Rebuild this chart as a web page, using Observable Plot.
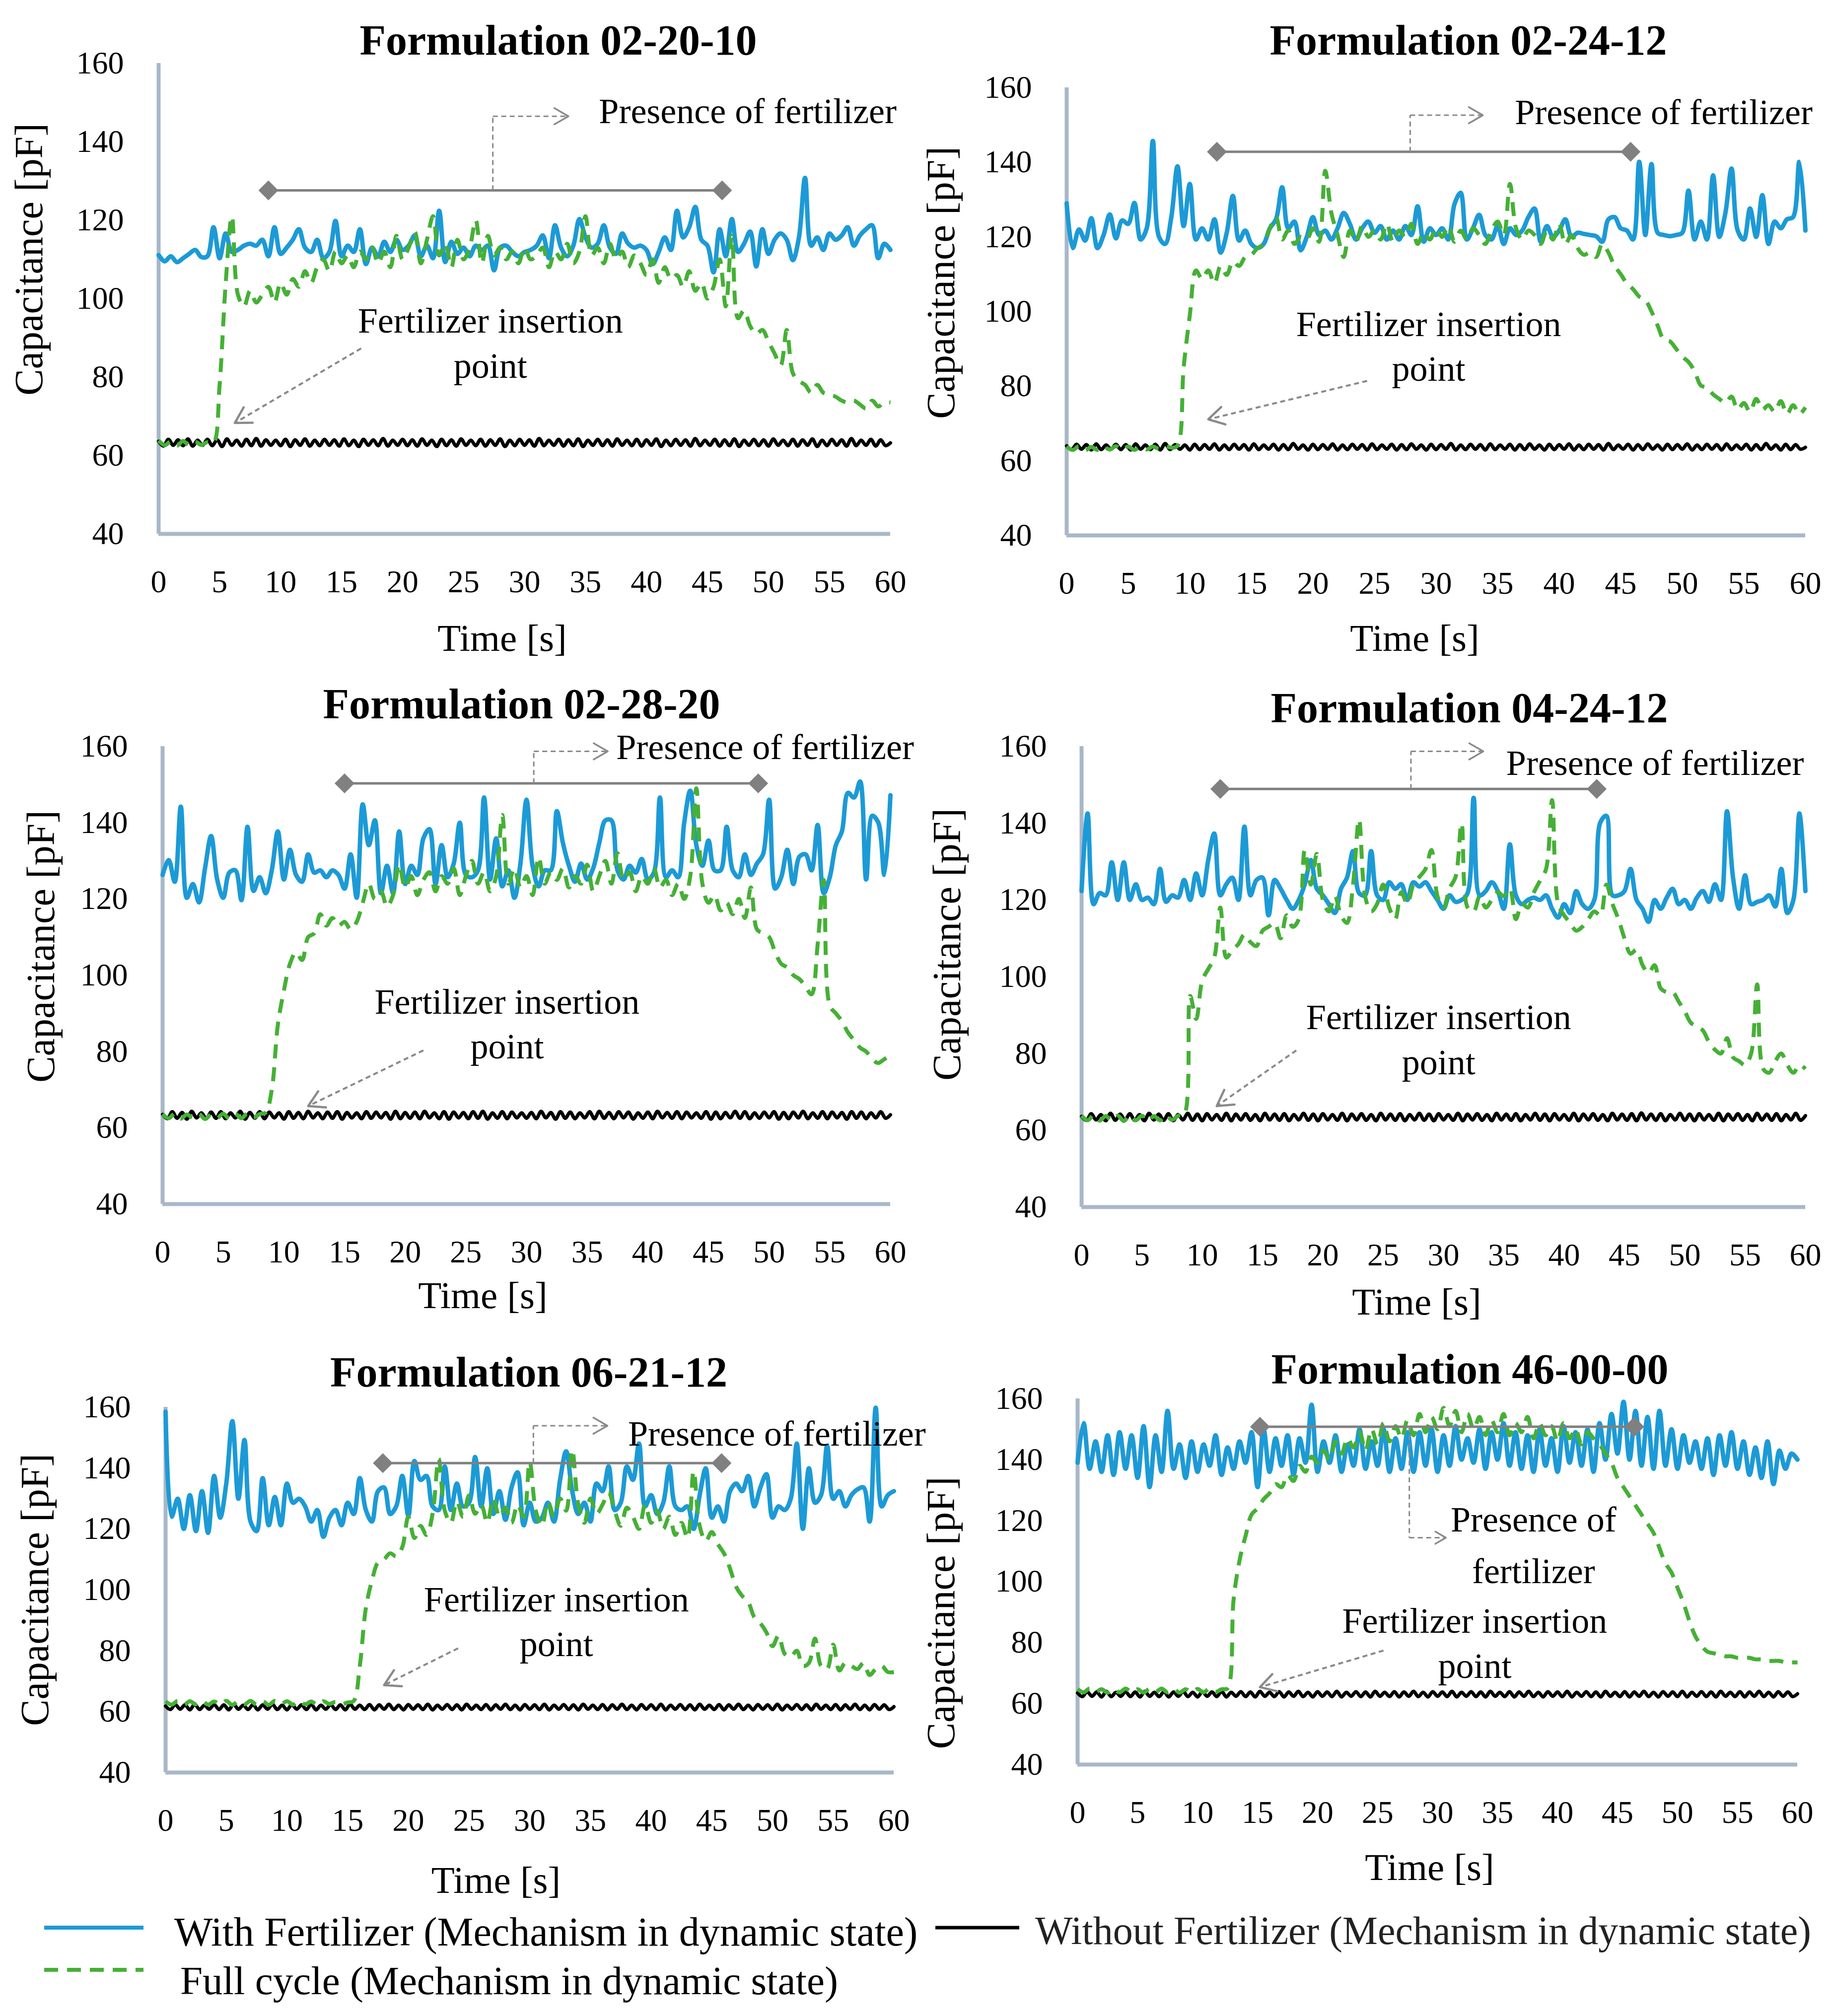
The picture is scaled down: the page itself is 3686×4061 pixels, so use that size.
<!DOCTYPE html>
<html><head><meta charset="utf-8">
<script src="https://cdn.jsdelivr.net/npm/d3@7"></script>
<script src="https://cdn.jsdelivr.net/npm/@observablehq/plot@0.6"></script>
<style>
html,body{margin:0;padding:0;background:#fff;}
#root{position:relative;width:3686px;height:4061px;background:#fff;overflow:hidden;}
</style></head><body><div id="root"></div><script>
// ---------------- DATA ----------------
const formulations = ["02-20-10","02-24-12","02-28-20","04-24-12","06-21-12","46-00-00"];
const yTicks = [40,60,80,100,120,140,160];
const xTicks = [0,5,10,15,20,25,30,35,40,45,50,55,60];
const seriesNames = ["With Fertilizer (Mechanism in dynamic state)","Full cycle (Mechanism in dynamic state)","Without Fertilizer (Mechanism in dynamic state)"];

// With fertilizer (blue), 0..60 s every 0.5 s
const wf_022010 = [111.1,109.5,110.8,109.3,110.3,111.4,112.4,110.6,110.8,118.2,
110.3,116.6,111.9,112.4,113.5,114.0,113.5,115.0,110.8,118.2,
111.4,113.0,115.0,117.7,113.0,111.9,115.0,110.3,111.9,119.8,
110.8,113.5,111.9,117.7,108.8,113.0,110.8,114.5,111.9,115.0,
112.4,113.5,116.1,110.8,113.5,110.3,122.4,109.3,114.5,111.4,
113.0,110.8,113.5,112.4,113.5,107.2,113.0,113.5,111.9,110.8,
111.9,112.4,113.5,116.1,110.3,118.7,113.0,110.8,113.5,120.3,
115.6,113.0,114.0,118.7,113.0,111.4,116.6,114.0,113.0,113.5,
112.4,108.8,111.9,115.6,112.4,122.4,115.6,118.2,123.4,115.0,
113.5,106.7,117.7,110.8,120.3,111.9,114.0,117.1,108.2,117.7,
111.4,115.0,116.6,115.0,109.8,115.6,130.8,113.5,115.6,112.4,
116.6,115.0,116.1,118.2,113.5,116.1,117.7,118.7,110.3,114.0,
112.4];
const wf_022412 = [129,117,122,119,125,117,120.5,126,119.6,124.4,
123.5,129.1,119.3,122.3,145.7,120,118.1,125.3,138.9,122.9,
134.2,119.3,122.3,119.3,124.7,115.8,121.1,131,119,121.7,
118.1,117,118.1,122.3,124.7,133.3,122.3,124.1,116.4,120,
125.3,120.5,121.7,119.3,122.3,126.4,123.5,119.3,122.3,124.1,
121.1,122.9,119.3,121.7,119.3,122.9,120.5,128.2,118.7,122.3,
120.5,122.3,119.3,128.8,131.8,119.3,122.3,125.9,120.5,119.3,
122.9,118.1,122.3,120.5,121.7,125.3,127.6,118.7,122.9,120,
121.7,124.7,120,121.1,120.8,120.5,120.2,118.7,124.7,125.3,
122.3,121.7,119.3,140.1,120.5,139.5,121.1,120.5,120.2,120.5,
121.1,132.4,119.3,124.1,119.3,136.5,120,126.4,138.3,121.7,
119.3,127.6,120,131.2,118.1,124.1,122.3,124.7,125.3,140.1,
121.7];
const wf_022820 = [126.3,130.2,124.5,144.2,120.3,123.9,119.1,128.1,136.5,125.1,
120.3,126.9,127.5,119.7,138.9,122.1,125.7,121.5,127.5,137.7,
125.1,132.9,126.3,124.5,131.7,126.9,127.5,125.7,127.5,126.3,
122.7,131.7,120.3,144.8,134.1,140.6,121.5,128.7,121.5,137.7,
123.9,128.7,126.3,135.9,138.3,123.9,134.1,125.7,129.3,140,
126.3,125.7,127.5,146.6,125.1,135.9,123.3,127.5,120.3,129.3,
146,128.7,123.3,127.5,127.5,143,134.7,128.7,124.5,129.3,
125.1,128.1,134.7,140.6,140.6,127.5,125.1,128.7,126.9,130.5,
125.1,126.9,146.6,125.7,127.5,125.7,140,148.4,134.1,128.7,
135.3,127.5,127.5,138.9,127.5,125.7,131.7,126.3,129.3,131.7,
146,122.7,125.7,132.9,123.9,131.1,131.7,127.5,139.4,121.5,
125.7,134.1,137.7,147.8,146.6,150.8,125.1,141.8,140,126.3,
147.2];
const wf_042412 = [122.3,142.5,118.9,121.8,121.2,129.8,120,129.8,120,124.1,
120,120.6,118.9,128.1,119.5,121.2,120.6,125.2,120,126.9,
121.2,130.4,137.3,121.2,124.1,125.8,120,139.1,121.2,125.2,
125.8,116,125.2,122.9,120,117.7,120,124.1,130.4,122.9,
121.2,118.9,116.6,122.9,125.8,132.7,121.8,121.2,132.7,121.2,
120,124.6,122.9,124.1,120,124.6,123.5,124.6,122.3,120,
117.7,121.2,119.5,120,121.8,146.6,121.2,122.3,124.6,122.3,
117.7,134.5,121.2,118.9,120,120.6,120,121.2,117.7,115.4,
118.9,116.6,122.3,118.9,117.7,120,140.2,141.9,121.2,121.2,
122.3,128.1,120,117.7,114.3,120,117.7,120.6,122.9,118.9,
120,117.7,120.6,122.3,119.5,124.1,120,143.1,125.8,117.7,
126.4,118.9,119.5,120,121.2,118.3,128.1,116.6,120,142.5,
122.3];
const wf_062112 = [158.5,124,129.9,120,131.1,119.3,132.4,118.7,137.4,123.7,
134.9,155.4,129.9,149.2,122.4,119.3,136.7,121.2,130.5,121.2,
134.9,128.6,129.9,127.4,122.4,126.2,117.4,123.7,126.2,121.2,
128.6,124.9,136.7,126.2,122.4,132.4,133.6,124.9,127.4,137.4,
124.3,142.3,136.1,137.4,127.4,126.2,140.5,126.2,134.9,127.4,
128.6,143.6,127.4,139.9,124.9,132.4,123,133.6,138.6,121.2,
128.6,122.4,123.7,128.6,122.4,136.1,145.5,132.4,124.9,128.6,
122.4,134.9,132.4,140.5,126.2,128.6,140.5,136.1,148,127.4,
131.1,124.9,128.6,140.5,127.4,126.2,127.4,120,131.1,139.9,
123.7,127.4,122.4,132.4,134.9,132.4,137.4,127.4,133.6,138,
123.7,127.4,126.2,129.9,148,120,139.9,128.6,131.1,147.3,
129.9,132.4,127.4,131.1,133,133.6,122.4,159.8,127.4,131.1,
132.4];
const wf_460000 = [139,152,137,146,136,148,135,149,137,148,
134,151,131,148,136,156,137,145,134,146,
136,145,138,148,135,144,137,146,139,149,
131,150,136,147,138,148,135,147,139,158,
136,146,139,148,136,145,138,150,137,146,
138,150,136,147,137,149,136,149,138,150,
136,148,138,151,140,147,139,150,137,149,
140,152,138,149,137,148,136,150,138,147,
136,151,139,149,138,150,136,152,140,155,
142,159,140,156,138,154,137,156,138,150,
137,148,139,146,137,147,135,148,138,149,
137,146,135,144,134,146,132,143,137,142,
140];

// Full cycle (green dashed), 0..60 s every 0.5 s
const fc_022010 = [63.8,62.6,63.6,62.5,63.7,62.6,63.5,62.7,63.4,63.2,
78,104,121,101,98,102,99,101,103,99,
104,101,105,103,107,104,108,110,107,112,
109,111,108,112,110,113,109,112,108,116,
110,113,117,109,115,121,111,114,108,115,
110,113,120,109,116,111,113,110,112,109,
113,110,111,113,108,112,110,114,109,112,
121,111,113,109,114,110,112,108,111,109,
106,110,104,108,105,106,103,107,102,104,
100,103,110,98,116,95,97,93,91,92,
89,86,83,92,81,79,78,76,78,76,
75.5,75,74,73.5,74,73,72,74,72.5,73.5,
73.5];
const fc_022412 = [63.8,62.9,63.9,62.8,63.7,62.9,63.8,63.0,63.9,62.9,
63.8,62.9,63.7,63.0,63.8,63.2,63.9,63.5,64,85,
99,111,108.7,111,107.5,112.2,109.8,113.4,112.2,114.6,
115.2,117,118.1,122.3,125.3,119.3,121.7,118.1,120,119.3,
122.3,118.7,137.7,126.4,120.5,114.6,121.7,118.7,122.9,120,
121.7,119.3,123.5,118.7,121.7,120,123.5,118.1,121.1,119.3,
122.3,120,122.9,118.7,121.7,119.3,122.3,120.5,118.1,121.7,
124.1,120.5,134.2,122.3,119.3,121.7,120.5,118.1,121.7,119.3,
123.5,118.1,120.5,117,115.2,115.8,114.6,118.1,115.8,112.2,
110,107.5,106,104,103,100,96.2,92.5,92,90,
87.9,86.5,84,80.2,79.6,77.8,76.6,75.5,77.2,73.7,
75.5,73.1,76.6,73.7,74.9,73.1,76,72.5,74.9,72.5,
74.3];
const fc_022820 = [63.6,62.5,63.7,62.4,63.5,62.6,63.6,62.3,63.5,62.6,
63.7,62.4,63.6,62.5,63.8,62.7,63.6,64,70,87,
96,103,106,104,110,111,116,113,115,113,
114,112,114,119,124,120,122,118,121,129,
123,126,121,125,127,122,126,124,128,121,
126,130,124,127,122,126,142,124,128,123,
126,121,131,124,127,125,128,123,126,124,
129,122,126,130,124,132,125,127,122,126,
124,128,123,125,121,124,120,126,149,124,
119,121,117,119,116,120,115,123,112,111,
110,106,103,102,100,99,97,95,108,125,
92,90,88,85,83,81,80,78,77,78,
79];
const fc_042412 = [63.8,62.6,63.9,62.5,63.7,62.6,63.8,62.4,63.9,62.6,
63.8,62.5,63.7,62.6,63.9,62.7,63.8,64,95,89,
99,102,105,118,105,107,108.5,111,109,108,
112,113,114,110,116,113,115,133,124,132,
120,117,121,116,114,124,141,121,117,119,
124,118,115,122,119,124,126,128,133,121,
118,123,126,140,118,117,121,118,120,122,
121,123,115,119,118,122,125,128,146,119,
116,114,112,113,115,117,116,124,119,115,
110,106,107,103,101,103,97,96,96,93.5,
91,88,87,86,83,81,80,84,79,78,
77,80,98,76,75,78,80,77,75,77,
76];
const fc_062112 = [63.4,62.3,63.5,62.2,63.4,62.4,63.5,62.3,63.3,62.4,
63.5,62.2,63.4,62.4,63.5,62.3,63.4,62.2,63.5,62.4,
63.4,62.3,63.5,62.4,63.3,62.2,63.4,62.5,63.2,62.4,
63.0,63.5,75,94,103,109,110,112,111,114,
124,117,121,118,125,143,126,122,129,124,
131,125,128,122,130,124,127,122,128,124,
142,126,121,129,124,130,126,146,128,122,
130,125,128,132,126,121,127,124,120,128,
122,126,120,124,118,122,117,139,121,116,
119,115,112,107,101,98,96,91,89,86,
81.5,85,79,78,80,75,76,84,75,74,
82,73.5,76,75,74,76,72,74,75,73,
73];
const fc_460000 = [64.8,63.7,64.9,63.8,64.7,63.6,64.8,63.7,64.9,63.8,
64.7,63.6,64.8,63.8,64.9,63.7,64.8,63.6,64.7,63.8,
64.8,63.7,64.9,63.8,64.7,65,94,107,115,122,
124,127,129,132,131,135,133,138,136,141,
139,143,140,146,142,147,144,149,143,150,
145,152,146,151,147,153,148,155,149,154,
150,157,151,156,149,155,150,154,148,153,
149,155,148,152,149,154,147,152,148,151,
146,152,147,150,145,149,147,145,142,139,
134,131,128,125,122,119,116,111,106,103,
98,93,87,82,79,77,76.5,76,75.5,75.5,
75,75,75,74.5,74.5,74,74,74,73.5,73.5,
73.5];

// Without fertilizer (black), 0..60 s every 0.4 s
const nf_022010 = [63.6,62.4,64.1,62.6,64.0,62.5,64.2,62.4,63.9,62.6,
64.1,62.5,64.0,62.3,64.2,62.6,63.9,62.4,64.1,62.5,
64.3,62.4,64.0,62.6,63.9,62.5,64.1,62.3,64.0,62.6,
64.2,62.4,63.9,62.5,64.1,62.6,64.0,62.4,64.2,62.5,
63.9,62.3,64.1,62.6,64.0,62.5,64.3,62.4,63.9,62.6,
64.1,62.5,64.0,62.4,64.2,62.6,63.9,62.3,64.1,62.5,
64.0,62.4,64.2,62.6,63.9,62.5,64.1,62.4,64.0,62.6,
64.2,62.3,63.9,62.5,64.1,62.6,64.0,62.4,64.3,62.5,
63.9,62.6,64.1,62.4,64.0,62.5,64.2,62.3,63.9,62.6,
64.1,62.5,64.0,62.4,64.2,62.6,63.9,62.5,64.1,62.4,
64.0,62.6,64.2,62.3,63.9,62.5,64.1,62.6,64.0,62.4,
64.3,62.5,63.9,62.6,64.1,62.4,64.0,62.5,64.2,62.3,
63.9,62.6,64.1,62.5,64.0,62.4,64.2,62.6,63.9,62.5,
64.1,62.4,64.0,62.6,64.2,62.3,63.9,62.5,64.1,62.6,
64.0,62.4,64.3,62.5,63.9,62.6,64.1,62.4,64.0,62.5,
63.2];
const nf_022412 = [64.0,63.0,64.4,63.1,64.3,62.9,64.5,63.0,64.2,63.1,
64.4,63.0,64.3,62.9,64.5,63.1,64.2,63.0,64.4,62.9,
64.6,63.0,64.3,63.1,64.2,62.9,64.4,63.0,64.3,63.1,
64.5,62.9,64.2,63.0,64.4,63.1,64.3,62.9,64.5,63.0,
64.2,63.1,64.4,62.9,64.3,63.0,64.6,63.1,64.2,62.9,
64.4,63.0,64.3,63.1,64.5,62.9,64.2,63.0,64.4,63.1,
64.3,62.9,64.5,63.0,64.2,63.1,64.4,62.9,64.3,63.0,
64.5,63.1,64.2,62.9,64.4,63.0,64.3,63.1,64.6,62.9,
64.2,63.0,64.4,63.1,64.3,62.9,64.5,63.0,64.2,63.1,
64.4,62.9,64.3,63.0,64.5,63.1,64.2,62.9,64.4,63.0,
64.3,63.1,64.5,62.9,64.2,63.0,64.4,63.1,64.3,62.9,
64.6,63.0,64.2,63.1,64.4,62.9,64.3,63.0,64.5,63.1,
64.2,62.9,64.4,63.0,64.3,63.1,64.5,62.9,64.2,63.0,
64.4,63.1,64.3,62.9,64.5,63.0,64.2,63.1,64.4,62.9,
64.3,63.0,64.6,63.1,64.2,62.9,64.4,63.0,64.3,63.1,
63.6];
const nf_022820 = [63.5,62.4,64.2,62.5,64.0,62.3,64.3,62.6,63.9,62.4,
64.1,62.5,64.2,62.4,63.9,62.6,64.3,62.3,64.0,62.5,
64.2,62.4,64.1,62.6,63.9,62.3,64.2,62.5,64.0,62.4,
64.3,62.6,63.9,62.4,64.1,62.5,64.2,62.3,64.0,62.6,
63.9,62.4,64.2,62.5,64.1,62.6,64.0,62.3,64.3,62.4,
64.0,62.5,64.1,62.4,64.3,62.6,63.9,62.4,64.2,62.3,
64.1,62.6,64.0,62.4,64.2,62.5,64.3,62.3,63.9,62.5,
64.2,62.4,64.1,62.6,63.9,62.5,64.0,62.4,64.3,62.6,
64.0,62.3,64.2,62.5,64.1,62.4,63.9,62.6,64.2,62.4,
64.3,62.5,64.0,62.4,64.2,62.6,64.1,62.3,63.9,62.5,
64.1,62.4,64.3,62.6,64.0,62.5,64.2,62.4,64.1,62.6,
63.9,62.5,64.2,62.3,64.1,62.4,64.0,62.6,64.3,62.5,
64.2,62.4,63.9,62.5,64.1,62.6,64.2,62.3,64.0,62.4,
64.1,62.6,64.3,62.4,63.9,62.5,64.2,62.4,64.1,62.6,
64.0,62.3,64.2,62.5,64.1,62.4,63.9,62.6,64.2,62.5,
63.4];
const nf_042412 = [63.6,62.6,64.3,62.7,64.1,62.5,64.4,62.6,64.2,62.7,
64.3,62.6,64.1,62.5,64.4,62.7,64.2,62.6,64.3,62.5,
64.1,62.7,64.4,62.6,64.2,62.5,64.3,62.7,64.1,62.6,
64.4,62.5,64.2,62.7,64.3,62.6,64.1,62.5,64.4,62.7,
64.2,62.6,64.3,62.5,64.1,62.7,64.4,62.6,64.2,62.5,
64.3,62.7,64.1,62.6,64.4,62.5,64.2,62.7,64.3,62.6,
64.1,62.5,64.4,62.7,64.2,62.6,64.3,62.5,64.1,62.7,
64.4,62.6,64.2,62.5,64.3,62.7,64.1,62.6,64.4,62.5,
64.2,62.7,64.3,62.6,64.1,62.5,64.4,62.7,64.2,62.6,
64.3,62.5,64.1,62.7,64.4,62.6,64.2,62.5,64.3,62.7,
64.1,62.6,64.4,62.5,64.2,62.7,64.3,62.6,64.1,62.5,
64.4,62.7,64.2,62.6,64.3,62.5,64.5,62.7,64.2,62.6,
64.3,62.5,64.1,62.7,64.4,62.6,64.2,62.5,64.3,62.7,
64.1,62.6,64.4,62.5,64.2,62.7,64.3,62.6,64.1,62.5,
64.4,62.7,64.2,62.6,64.3,62.5,64.1,62.7,64.4,62.6,
63.8];
const nf_062112 = [61.8,60.7,62.3,60.8,62.2,60.6,62.4,60.7,62.1,60.8,
62.3,60.7,62.2,60.6,62.4,60.8,62.1,60.7,62.3,60.6,
62.2,60.8,62.4,60.7,62.1,60.6,62.3,60.8,62.2,60.7,
62.4,60.6,62.1,60.8,62.3,60.7,62.2,60.6,62.4,60.8,
62.1,60.7,62.3,60.6,62.2,60.8,62.4,60.7,62.1,60.6,
62.3,60.8,62.2,60.7,62.4,60.6,62.1,60.8,62.3,60.7,
62.2,60.6,62.4,60.8,62.1,60.7,62.3,60.6,62.2,60.8,
62.4,60.7,62.1,60.6,62.3,60.8,62.2,60.7,62.4,60.6,
62.1,60.8,62.3,60.7,62.2,60.6,62.4,60.8,62.1,60.7,
62.3,60.6,62.2,60.8,62.4,60.7,62.1,60.6,62.3,60.8,
62.2,60.7,62.4,60.6,62.1,60.8,62.3,60.7,62.2,60.6,
62.4,60.8,62.1,60.7,62.3,60.6,62.2,60.8,62.4,60.7,
62.1,60.6,62.3,60.8,62.2,60.7,62.4,60.6,62.1,60.8,
62.3,60.7,62.2,60.6,62.4,60.8,62.1,60.7,62.3,60.6,
62.2,60.8,62.4,60.7,62.1,60.6,62.3,60.8,62.2,60.7,
61.6];
const nf_460000 = [63.5,62.3,63.9,62.4,63.8,62.2,64.0,62.3,63.7,62.4,
63.9,62.3,63.8,62.2,64.0,62.4,63.7,62.3,63.9,62.2,
63.8,62.4,64.0,62.3,63.7,62.2,63.9,62.4,63.8,62.3,
64.0,62.2,63.7,62.4,63.9,62.3,63.8,62.2,64.0,62.4,
63.7,62.3,63.9,62.2,63.8,62.4,64.0,62.3,63.7,62.2,
63.9,62.4,63.8,62.3,64.0,62.2,63.7,62.4,63.9,62.3,
63.8,62.2,64.0,62.4,63.7,62.3,63.9,62.2,63.8,62.4,
64.0,62.3,63.7,62.2,63.9,62.4,63.8,62.3,64.0,62.2,
63.7,62.4,63.9,62.3,63.8,62.2,64.0,62.4,63.7,62.3,
63.9,62.2,63.8,62.4,64.0,62.3,63.7,62.2,63.9,62.4,
63.8,62.3,64.0,62.2,63.7,62.4,63.9,62.3,63.8,62.2,
64.0,62.4,63.7,62.3,63.9,62.2,63.8,62.4,64.0,62.3,
63.7,62.2,63.9,62.4,63.8,62.3,64.0,62.2,63.7,62.4,
63.9,62.3,63.8,62.2,64.0,62.4,63.7,62.3,63.9,62.2,
63.8,62.4,64.0,62.3,63.7,62.2,63.9,62.4,63.8,62.3,
63.2];

// Presence-of-fertilizer interval (s) and level (pF) marked in each panel
const presenceStart = [9.0, 12.2, 15.0, 11.5, 17.9, 15.2];
const presenceEnd   = [46.2, 45.8, 49.1, 42.7, 45.8, 46.4];
const presenceLevel = [127.6, 142.8, 150.3, 148.9, 141.6, 150.8];

const withFertilizer = [wf_022010, wf_022412, wf_022820, wf_042412, wf_062112, wf_460000];
const fullCycle      = [fc_022010, fc_022412, fc_022820, fc_042412, fc_062112, fc_460000];
const withoutFert    = [nf_022010, nf_022412, nf_022820, nf_042412, nf_062112, nf_460000];

// ---------------- LAYOUT / STYLE ----------------
const FONT = '"Liberation Serif", "Times New Roman", serif';
const BLUE = "#1c9ad6", GREEN = "#45b035", GRAY = "#808080", DGRAY = "#8a8a8a", AXIS = "#a8b7c9";
const layout = [
  {left:0,    top:0,    width:1843, height:1340, ml:319, mr:50, mt:127, mb:265, tdx:68,  tdy:-45, ydx:-260, ydy:-79, xdx:-45, xdy:211},
  {left:1843, top:0,    width:1843, height:1340, ml:305, mr:50, mt:176, mb:262, tdx:65,  tdy:-94, ydx:-252, ydy:-58, xdx:-43, xdy:208},
  {left:0,    top:1340, width:1843, height:1340, ml:327, mr:50, mt:163, mb:255, tdx:-10, tdy:-84, ydx:-244, ydy:-58, xdx:-88, xdy:185},
  {left:1843, top:1340, width:1843, height:1340, ml:335, mr:50, mt:163, mb:249, tdx:52,  tdy:-76, ydx:-270, ydy:-65, xdx:-54, xdy:192},
  {left:0,    top:2680, width:1843, height:1160, ml:333, mr:43, mt:154, mb:270, tdx:-2,  tdy:-69, ydx:-262, ydy:0,   xdx:-68, xdy:218},
  {left:1843, top:2680, width:1843, height:1160, ml:327, mr:66, mt:137, mb:286, tdx:65,  tdy:-58, ydx:-274, ydy:63,  xdx:-16, xdy:208}
];
// annotation geometry (data coordinates)
const annot = [
  {cx:27.4,  cy:146.5, ax:33.6, ptx:36.1, pty:148.3, ptext:"Presence of fertilizer", pAnchor:"start", pLH:1.2, ilx:27.2, ily:89.25, fx:16.6, fy:87.3, tx:6.25, ty:68.3},
  {cx:27.9,  cy:152.6, ax:33.8, ptx:36.4, pty:153.9, ptext:"Presence of fertilizer", pAnchor:"start", pLH:1.2, ilx:29.4, ily:91.3,  fx:24.4, fy:81.4, tx:11.5, ty:71.1},
  {cx:30.6,  cy:158.7, ax:36.7, ptx:37.4, pty:160.3, ptext:"Presence of fertilizer", pAnchor:"start", pLH:1.2, ilx:28.4, ily:87.85, fx:21.5, fy:80.3, tx:12.0, ty:65.7},
  {cx:27.3,  cy:158.7, ax:33.3, ptx:35.2, pty:156.1, ptext:"Presence of fertilizer", pAnchor:"start", pLH:1.2, ilx:29.6, ily:84.2,  fx:17.8, fy:80.8, tx:11.2, ty:66.3},
  {cx:30.3,  cy:153.9, ax:36.4, ptx:38.1, pty:151.9, ptext:"Presence of fertilizer", pAnchor:"start", pLH:1.2, ilx:32.2, ily:90.3,  fx:24.1, fy:80.8, tx:18.0, ty:68.7},
  {cx:27.65, cy:114.4, ax:30.7, ptx:38.0, pty:113.4, ptext:"Presence of\nfertilizer", pAnchor:"middle", pLH:1.45, ilx:33.1, ily:80.6, fx:25.5, fy:77.4, tx:15.2, ty:65.4}
];

const root = document.getElementById("root");
const series = arr => arr.map((v, j) => ({t: j * 60 / (arr.length - 1), v}));

formulations.forEach((name, i) => {
  const L = layout[i], A = annot[i];
  const kx = (L.width - L.ml - L.mr) / 60, ky = (L.height - L.mt - L.mb) / 120;
  const bar = [{x1: presenceStart[i], x2: presenceEnd[i], y: presenceLevel[i]}];
  const ends = [{x: presenceStart[i], y: presenceLevel[i]}, {x: presenceEnd[i], y: presenceLevel[i]}];
  const conn = [{x1: A.cx, y1: presenceLevel[i], x2: A.cx, y2: A.cy}, {x1: A.cx, y1: A.cy, x2: A.ax, y2: A.cy}];
  const connArrow = [{x1: A.cx, y1: A.cy, x2: A.ax, y2: A.cy}];
  const ins = [{x1: A.fx, y1: A.fy, x2: A.tx, y2: A.ty}];
  const Lc = Math.abs(A.ax - A.cx) * kx;
  const Li = Math.hypot((A.tx - A.fx) * kx, (A.ty - A.fy) * ky);
  const chart = Plot.plot({
    width: L.width, height: L.height,
    marginLeft: L.ml, marginRight: L.mr, marginTop: L.mt, marginBottom: L.mb,
    x: {domain: [0, 60], ticks: xTicks, tickSize: 0, tickPadding: 72, label: null},
    y: {domain: [40, 160], ticks: yTicks, tickSize: 0, tickPadding: 70, label: null},
    style: {fontFamily: FONT, fontSize: "64px", color: "#000", background: "transparent", overflow: "visible"},
    marks: [
      Plot.ruleX([0], {stroke: AXIS, strokeWidth: 8}),
      Plot.ruleY([40], {stroke: AXIS, strokeWidth: 8}),
      Plot.line(series(withoutFert[i]), {x: "t", y: "v", stroke: "#000", strokeWidth: 7, curve: "catmull-rom"}),
      Plot.line(series(withFertilizer[i]), {x: "t", y: "v", stroke: BLUE, strokeWidth: 9, curve: "catmull-rom"}),
      Plot.line(series(fullCycle[i]), {x: "t", y: "v", stroke: GREEN, strokeWidth: 8, curve: "catmull-rom", strokeDasharray: "28,18", strokeLinecap: "butt"}),
      Plot.link(bar, {x1: "x1", x2: "x2", y1: "y", y2: "y", stroke: GRAY, strokeWidth: 5}),
      Plot.dot(ends, {x: "x", y: "y", symbol: "diamond2", r: 18, fill: GRAY}),
      Plot.link(conn, {x1: "x1", y1: "y1", x2: "x2", y2: "y2", stroke: DGRAY, strokeWidth: 3, strokeDasharray: "10,7"}),
      Plot.arrow(connArrow, {x1: "x1", y1: "y1", x2: "x2", y2: "y2", stroke: DGRAY, strokeWidth: 3.5, headLength: 14, insetStart: Lc - 3}),
      Plot.link(ins, {x1: "x1", y1: "y1", x2: "x2", y2: "y2", stroke: DGRAY, strokeWidth: 4, strokeDasharray: "10,7"}),
      Plot.arrow(ins, {x1: "x1", y1: "y1", x2: "x2", y2: "y2", stroke: DGRAY, strokeWidth: 4.5, headLength: 12, insetStart: Li - 3}),
      Plot.text([{x: A.ptx, y: A.pty, s: A.ptext}], {x: "x", y: "y", text: "s", textAnchor: A.pAnchor, lineAnchor: "middle", lineHeight: A.pLH, fontSize: 72, fontFamily: FONT, fill: "#000"}),
      Plot.text([{x: A.ilx, y: A.ily, s: "Fertilizer insertion\npoint"}], {x: "x", y: "y", text: "s", textAnchor: "middle", lineAnchor: "middle", lineHeight: 1.26, fontSize: 72, fontFamily: FONT, fill: "#000"}),
      Plot.text(["Formulation " + name], {text: d => d, frameAnchor: "top", dx: L.tdx, dy: L.tdy, lineAnchor: "middle", fontSize: 86, fontWeight: "bold", fontFamily: FONT, fill: "#000"}),
      Plot.text(["Capacitance [pF]"], {text: d => d, frameAnchor: "left", rotate: -90, dx: L.ydx, dy: L.ydy, lineAnchor: "middle", textAnchor: "middle", fontSize: 80, fontFamily: FONT, fill: "#000"}),
      Plot.text(["Time [s]"], {text: d => d, frameAnchor: "bottom", dx: L.xdx, dy: L.xdy, lineAnchor: "middle", fontSize: 77, fontFamily: FONT, fill: "#000"})
    ]
  });
  chart.style.position = "absolute";
  chart.style.left = L.left + "px";
  chart.style.top = L.top + "px";
  root.appendChild(chart);
});

// ---------------- LEGEND (below the panels) ----------------
const leg = d3.select(root).append("svg")
  .attr("width", 3686).attr("height", 221)
  .style("position", "absolute").style("left", "0px").style("top", "3840px")
  .style("font-family", FONT);
const legendItems = [
  {name: seriesNames[0], color: BLUE,  width: 8, dash: null,    x1: 89,   x2: 289,  ly: 43,  tx: 351,  ty: 53,  fill: "#000", fs: 82},
  {name: seriesNames[2], color: "#000", width: 7, dash: null,   x1: 1884, x2: 2053, ly: 43,  tx: 2085, ty: 50,  fill: "#222", fs: 80},
  {name: seriesNames[1], color: GREEN, width: 8, dash: "28,18", x1: 89,   x2: 289,  ly: 128, tx: 363,  ty: 151, fill: "#000", fs: 81}
];
legendItems.forEach(d => {
  leg.append("line").attr("x1", d.x1).attr("x2", d.x2).attr("y1", d.ly).attr("y2", d.ly)
    .attr("stroke", d.color).attr("stroke-width", d.width).attr("stroke-dasharray", d.dash);
  leg.append("text").attr("x", d.tx).attr("y", d.ty).attr("dy", "0.32em").attr("fill", d.fill)
    .style("font-size", d.fs + "px").text(d.name);
});
</script></body></html>
